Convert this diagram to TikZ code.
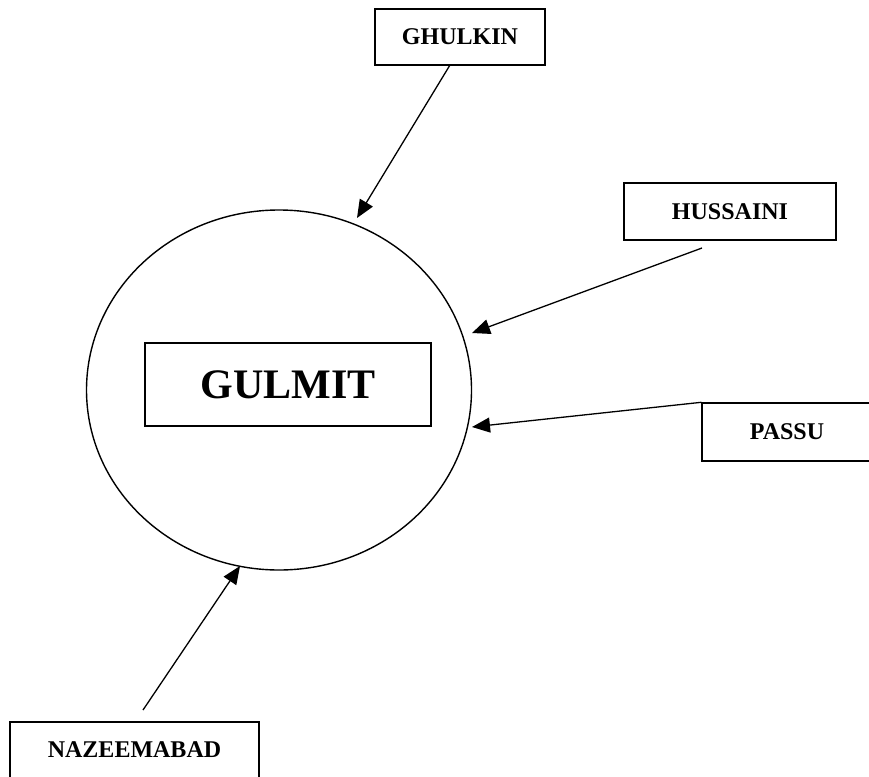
\documentclass[tikz,border=0pt]{standalone}
\usepackage{fontspec}
\setmainfont{Liberation Serif}
\usetikzlibrary{shapes.geometric,arrows.meta}
\begin{document}
\begin{tikzpicture}[x=1pt,y=-1pt,
  labelbox/.style={draw, line width=1.4pt, inner sep=0pt, font=\fontsize{24}{28}\selectfont\bfseries},
  conn/.style={line width=1.3pt, -{Triangle[length=18pt,width=15pt]}}]
\useasboundingbox (0,0) rectangle (869,776);
\clip (0,0) rectangle (869,776);
\node[ellipse, draw, line width=1.4pt, minimum width=385pt, minimum height=360pt, inner sep=0pt] (circ) at (279,390) {};
\node[labelbox, minimum width=286pt, minimum height=83pt, font=\fontsize{42}{48}\selectfont\bfseries] (gul) at (288,384.5) {GULMIT};
\node[labelbox, minimum width=170pt, minimum height=56pt] (ghu) at (460,37) {GHULKIN};
\node[labelbox, minimum width=212pt, minimum height=57pt] (hus) at (730,211.5) {HUSSAINI};
\node[labelbox, minimum width=170pt, minimum height=58pt] (pas) at (787,432) {PASSU};
\node[labelbox, minimum width=249pt, minimum height=56pt] (naz) at (134.5,750) {NAZEEMABAD};
\coordinate (ghuS) at (450,65);
\coordinate (ghuT) at (357,218);
\coordinate (husS) at (702,248);
\coordinate (husT) at (472,333);
\coordinate (pasT) at (472,427);
\coordinate (nazS) at (143,710);
\coordinate (nazT) at (240,566);
\draw[conn] (ghuS) -- (ghuT);
\draw[conn] (husS) -- (husT);
\draw[conn] (pas.north west) -- (pasT);
\draw[conn] (nazS) -- (nazT);
\end{tikzpicture}
\end{document}
